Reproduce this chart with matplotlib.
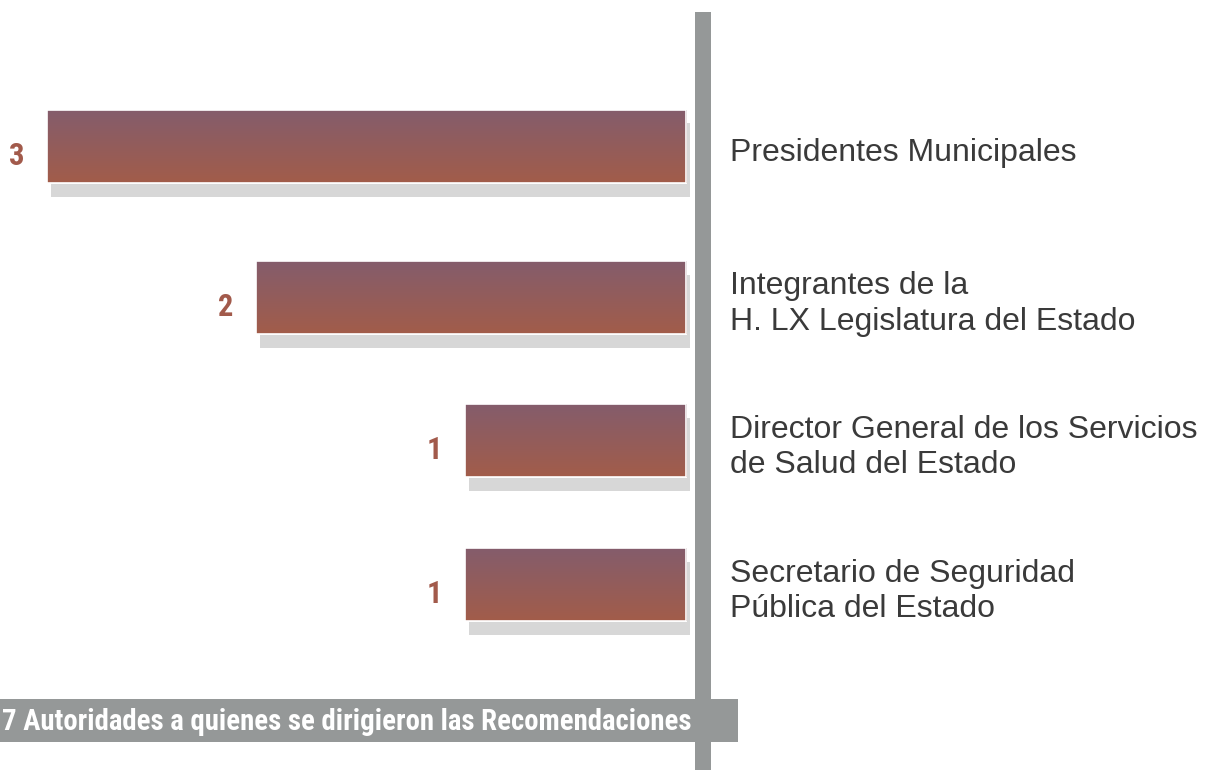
import numpy as np
import matplotlib.pyplot as plt
import matplotlib.patheffects as pe
from matplotlib.patches import Rectangle
from matplotlib.colors import LinearSegmentedColormap

# autoridades y numero de recomendaciones
autoridades = ['Presidentes Municipales',
               'Integrantes de la\nH. LX Legislatura del Estado',
               'Director General de los Servicios\nde Salud del Estado',
               'Secretario de Seguridad\nPública del Estado']
valores = [3, 2, 1, 1]
titulo = '7 Autoridades a quienes se dirigieron las Recomendaciones'

W, H = 1212, 770
fig = plt.figure(figsize=(W / 100, H / 100), dpi=100)
fig.patch.set_facecolor('white')

base = -0.06
ax = fig.add_axes([0, 0, 686 / W, 1])
ax.axis('off')

grad = LinearSegmentedColormap.from_list('g', ['#845d6c', '#a25c4a'])
narrow = ['Roboto Condensed', 'Fira Sans Condensed', 'Liberation Sans', 'DejaVu Sans']

ypos = [0, 1.035, 2.015, 3]  # posicion vertical de cada barra
anchos = [v - base for v in valores]
bars = ax.barh(ypos, anchos, left=base, height=0.5, color='none', edgecolor='white', linewidth=1.2)
for b, y, v, lab in zip(bars, ypos, valores, autoridades):
    b.set_path_effects([pe.SimplePatchShadow(offset=(3, -10), shadow_rgbFace='#d7d7d7', alpha=1.0),
                        pe.Normal()])
    b.set_zorder(2)
    b.set_clip_on(False)
    im = ax.imshow(np.linspace(0, 1, 100).reshape(-1, 1), cmap=grad, aspect='auto',
                   extent=[base, v, y + 0.25, y - 0.25], zorder=3)
    im.set_clip_path(b)
    ax.add_patch(Rectangle((base, y - 0.25), v - base, 0.5, fill=False, edgecolor='white',
                           lw=1.2, zorder=4, clip_on=False))
    ax.annotate(str(v), (v, y), xytext=(-16, -7), textcoords='offset points',
                ha='right', va='center', fontsize=22, fontweight='bold',
                color='#a25a4b', family=narrow)
    ax.annotate(lab, (base, y), xytext=(32, -5), textcoords='offset points',
                ha='left', va='center', fontsize=23, color='#3a3a3a',
                family=['Liberation Sans', 'DejaVu Sans'], linespacing=1.25,
                annotation_clip=False)
ax.set_xlim(3.225, base)
ax.set_ylim(4.27, -1)

# barra gris inferior y linea vertical
gris = '#959898'
fig.patches.append(Rectangle((0, 1 - 742 / H), 738 / W, 43 / H, transform=fig.transFigure,
                             facecolor=gris, edgecolor='none', zorder=5))
fig.patches.append(Rectangle((695 / W, 0), 16 / W, 1 - 12 / H, transform=fig.transFigure,
                             facecolor=gris, edgecolor='none', zorder=5))
fig.text(2 / W, 1 - 722 / H, titulo, ha='left', va='center', color='white',
         fontsize=20.7, fontweight='bold', family=narrow, zorder=6)

fig.savefig('out.png', dpi=100)
